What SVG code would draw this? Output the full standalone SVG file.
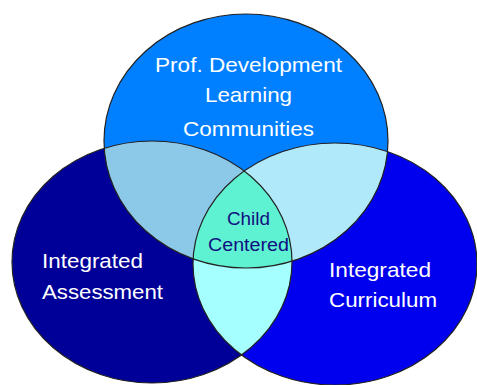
<svg xmlns="http://www.w3.org/2000/svg" width="477" height="385" viewBox="0 0 477 385">
  <style>
    .outline { fill: none; stroke: #222; stroke-width: 1.2; }
    .lbl { font-family: "Liberation Sans", Arial, sans-serif; font-size: 21px; fill: #ffffff; }
    .ctr { font-family: "Liberation Sans", Arial, sans-serif; font-size: 18px; fill: #101080; }
  </style>
  <defs>
    <ellipse id="eTop" cx="246" cy="141" rx="142" ry="127"/>
    <ellipse id="eLeft" cx="152" cy="262" rx="140" ry="121"/>
    <ellipse id="eRight" cx="335" cy="264" rx="142" ry="121"/>
    <clipPath id="cTop"><use href="#eTop"/></clipPath>
    <clipPath id="cLeft"><use href="#eLeft"/></clipPath>
    <clipPath id="cRight"><use href="#eRight"/></clipPath>
  </defs>
  <rect width="477" height="385" fill="#ffffff"/>
  <g id="node-top">
    <use href="#eTop" fill="#0080FF"/>
  </g>
  <g id="node-left">
    <use href="#eLeft" fill="#000099"/>
  </g>
  <g id="node-right">
    <use href="#eRight" fill="#0000EE"/>
  </g>
  <g id="overlaps">
    <g clip-path="url(#cTop)"><use href="#eLeft" fill="#8CC8E8"/></g>
    <g clip-path="url(#cTop)"><use href="#eRight" fill="#B0E9F9"/></g>
    <g clip-path="url(#cLeft)"><use href="#eRight" fill="#A6FFFF"/></g>
    <g clip-path="url(#cLeft)"><g clip-path="url(#cTop)"><use href="#eRight" fill="#5FF2D2"/></g></g>
  </g>
  <g id="outlines">
    <use href="#eTop" class="outline"/>
    <use href="#eLeft" class="outline"/>
    <use href="#eRight" class="outline"/>
  </g>
  <g id="labels">
    <text class="lbl" x="155" y="72" textLength="187" lengthAdjust="spacingAndGlyphs">Prof. Development</text>
    <text class="lbl" x="205" y="102" textLength="87" lengthAdjust="spacingAndGlyphs">Learning</text>
    <text class="lbl" x="183" y="136" textLength="131" lengthAdjust="spacingAndGlyphs">Communities</text>
    <text class="lbl" x="42" y="268" textLength="101" lengthAdjust="spacingAndGlyphs">Integrated</text>
    <text class="lbl" x="42" y="299" textLength="121" lengthAdjust="spacingAndGlyphs">Assessment</text>
    <text class="lbl" x="329" y="277" textLength="102" lengthAdjust="spacingAndGlyphs">Integrated</text>
    <text class="lbl" x="329" y="307" textLength="108" lengthAdjust="spacingAndGlyphs">Curriculum</text>
    <text class="ctr" x="227" y="225" textLength="43" lengthAdjust="spacingAndGlyphs">Child</text>
    <text class="ctr" x="208" y="251" textLength="81" lengthAdjust="spacingAndGlyphs">Centered</text>
  </g>
</svg>
